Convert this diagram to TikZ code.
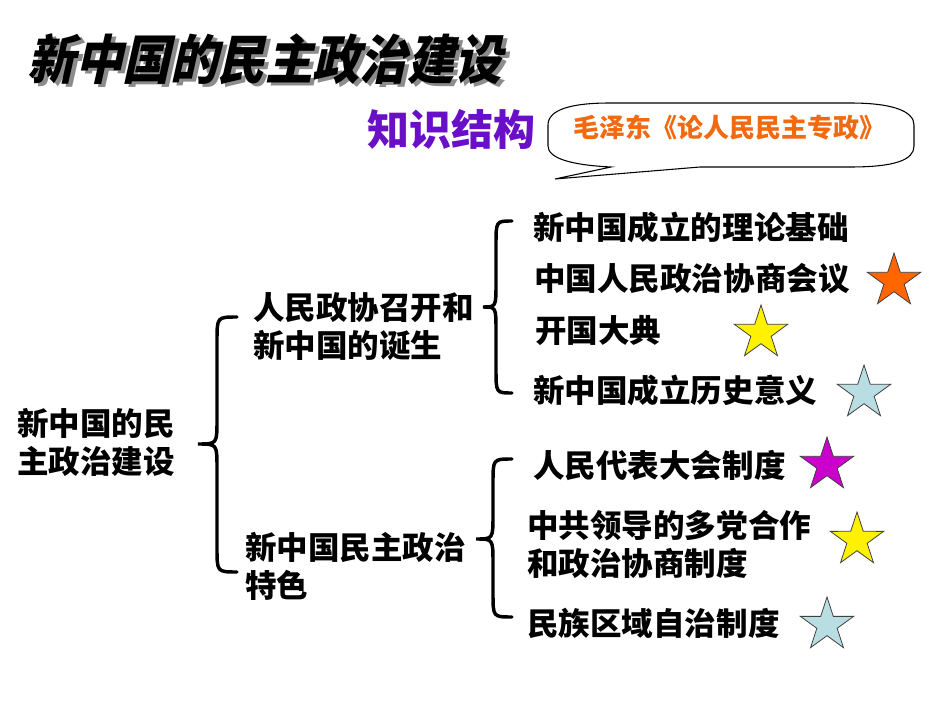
\documentclass[tikz,border=0pt]{standalone}
\usepackage{fontspec}
\setmainfont{Noto Sans CJK SC}
\newfontfamily\slantcjk[FakeSlant=0.25]{Noto Sans CJK SC}
\usetikzlibrary{calc,shapes.geometric}
\definecolor{calloutorange}{HTML}{F26A10}
\definecolor{starorange}{HTML}{FF6600}
\definecolor{starmagenta}{HTML}{CC00CC}
\definecolor{starblue}{HTML}{B8DDE3}
\definecolor{headpurple}{HTML}{6A0FC8}
\tikzset{
  item/.style={anchor=west,inner sep=0pt,align=left,
    font=\bfseries\fontsize{23.65}{28.5}\selectfont},
  starmark/.style={star,star points=5,star point ratio=2.618,draw=black!75,
    line width=0.6pt,minimum size=42pt,inner sep=0pt,outer sep=0pt},
  bracket/.style={line width=2.6pt,line cap=round},
  headline/.style={inner sep=0pt,yscale=1.12,transform shape,
    font=\slantcjk\bfseries\fontsize{35.6}{40}\selectfont},
}
% #1 top end, #2 tip, #3 bottom end, #4 distance from tip to spine
\newcommand{\curly}[4]{
  \coordinate (spine) at ($(#2)+(#4,0)$);
  \draw[bracket] (#1) .. controls (spine |- #1) .. ($(spine |- #1)+(0,24)$)
    -- ($(spine)+(0,-24)$) .. controls (spine) .. (#2)
    .. controls (spine) .. ($(spine)+(0,24)$)
    -- ($(spine |- #3)+(0,-24)$) .. controls (spine |- #3) .. (#3);
}
\begin{document}
\begin{tikzpicture}[x=0.75pt,y=-0.75pt]
  \useasboundingbox (0,0) rectangle (950,713);
  % heading
  \path (269,62) node[headline,text=black!45] (titleshadow) {新中国的民主政治建设};
  \path (265,59) node[headline] (title) {新中国的民主政治建设};
  \path (451,129) node[inner sep=0pt,text=headpurple,font=\bfseries\fontsize{31.5}{36}\selectfont] (knowledge) {知识结构};
  \draw[line width=0.8pt] (548,125) .. controls (548,110) and (570,103) .. (610,103)
    -- (850,103) .. controls (895,103) and (914,112) .. (914,125)
    -- (914,146) .. controls (914,160) and (895,167) .. (850,167)
    -- (700,167) -- (555,179) -- (611,167)
    .. controls (570,165) and (548,158) .. (548,146) -- cycle;
  \path (729,128) node[inner sep=0pt,text=calloutorange,font=\bfseries\fontsize{19.5}{24}\selectfont] (book) {毛泽东《论人民民主专政》};
  % tree
  \path (17,442) node[item] (root) {新中国的民\\主政治建设};
  \path (253,327) node[item] (birth) {人民政协召开和\\新中国的诞生};
  \path (245,566) node[item] (feature) {新中国民主政治\\特色};
  \path (533,227) node[item] (theory) {新中国成立的理论基础};
  \path (534,279) node[item] (cppcc) {中国人民政治协商会议};
  \path (535,331) node[item] (ceremony) {开国大典};
  \path (533,390) node[item] (meaning) {新中国成立历史意义};
  \path (533,465) node[item] (congress) {人民代表大会制度};
  \path (527,544) node[item] (parties) {中共领导的多党合作\\和政治协商制度};
  \path (527,623) node[item] (region) {民族区域自治制度};
  % braces
  \coordinate (rootTop) at (237,317);
  \coordinate (rootTip) at (198,444);
  \coordinate (rootBot) at (237,572);
  \curly{rootTop}{rootTip}{rootBot}{19}
  \coordinate (birthTop) at (512,221);
  \coordinate (birthTip) at (483,307);
  \coordinate (birthBot) at (512,393);
  \curly{birthTop}{birthTip}{birthBot}{13}
  \coordinate (featureTop) at (512,459);
  \coordinate (featureTip) at (476,539);
  \coordinate (featureBot) at (512,617);
  \curly{featureTop}{featureTip}{featureBot}{17}
  % stars
  \path (894,281) node[starmark,fill=starorange] (star1) {};
  \path (761,333) node[starmark,fill=yellow] (star2) {};
  \path (864,393) node[starmark,fill=starblue] (star3) {};
  \path (827,465) node[starmark,fill=starmagenta] (star4) {};
  \path (857,540) node[starmark,fill=yellow] (star5) {};
  \path (827,625) node[starmark,fill=starblue] (star6) {};
\end{tikzpicture}
\end{document}
